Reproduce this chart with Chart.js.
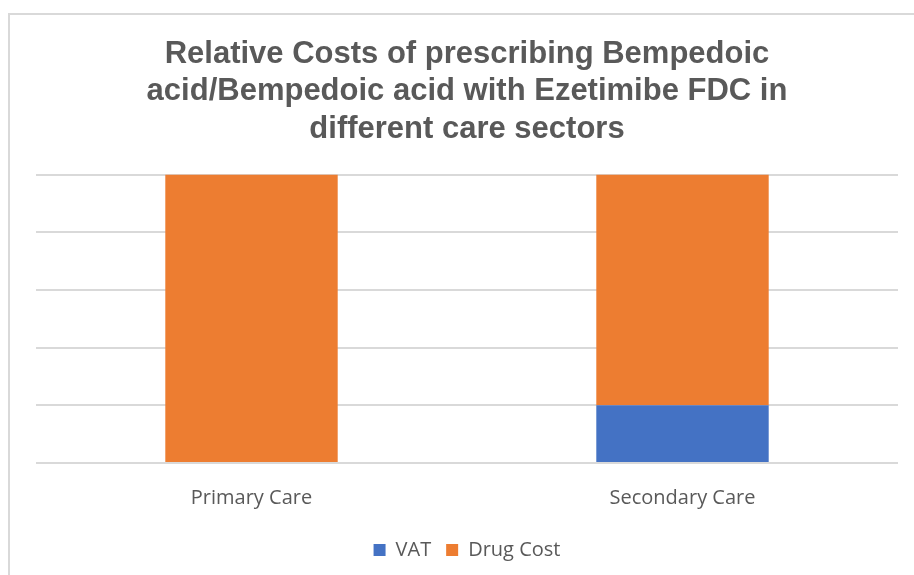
<!DOCTYPE html>
<html>
<head>
<meta charset="UTF-8">
<title>Relative Costs</title>
<script src="https://cdn.jsdelivr.net/npm/chart.js@4"></script>
<style>
  body { margin: 0; background: #fff; }
  .frame {
    position: absolute; left: 8px; top: 13px;
    width: 930px; height: 600px;
    border: 2px solid #d9d9d9;
  }
  .wrap { position: absolute; left: 0; top: 0; width: 914px; height: 575px; }
</style>
</head>
<body>
<div class="frame"></div>
<div class="wrap"><canvas id="chart" width="914" height="575"></canvas></div>
<script>
// data (relative %)
const categories = ['Primary Care', 'Secondary Care'];
const vatValues = [0, 20];
const drugCostValues = [100, 80];
const titleLines = [
  'Relative Costs of prescribing Bempedoic',
  'acid/Bempedoic acid with Ezetimibe FDC in',
  'different care sectors'
];

const grey = '#595959';
const labelFont = { family: 'Open Sans', size: 20 };

new Chart(document.getElementById('chart'), {
  type: 'bar',
  data: {
    labels: categories,
    datasets: [
      { label: 'VAT', data: vatValues, backgroundColor: '#4472C4' },
      { label: 'Drug Cost', data: drugCostValues, backgroundColor: '#ED7D31' }
    ]
  },
  options: {
    responsive: false,
    animation: false,
    devicePixelRatio: 1,
    layout: { padding: { left: 36, right: 16, top: 36, bottom: 5 } },
    datasets: { bar: { categoryPercentage: 1, barPercentage: 0.4 } },
    plugins: {
      title: {
        display: true,
        text: titleLines,
        color: grey,
        font: { family: 'Liberation Sans', size: 31, weight: 'bold', lineHeight: 1.2 },
        padding: { top: 0, bottom: 27 }
      },
      legend: {
        position: 'bottom',
        labels: {
          color: grey,
          font: labelFont,
          boxWidth: 12,
          boxHeight: 12,
          padding: 15
        }
      },
      tooltip: { enabled: false }
    },
    scales: {
      x: {
        stacked: true,
        grid: { display: false },
        border: { display: false },
        ticks: { color: grey, font: labelFont, padding: 15 }
      },
      y: {
        stacked: true,
        min: 0,
        max: 100,
        ticks: { display: false, stepSize: 20 },
        grid: { color: '#d9d9d9', lineWidth: 2, drawTicks: false },
        border: { display: false }
      }
    }
  }
});
</script>
</body>
</html>
